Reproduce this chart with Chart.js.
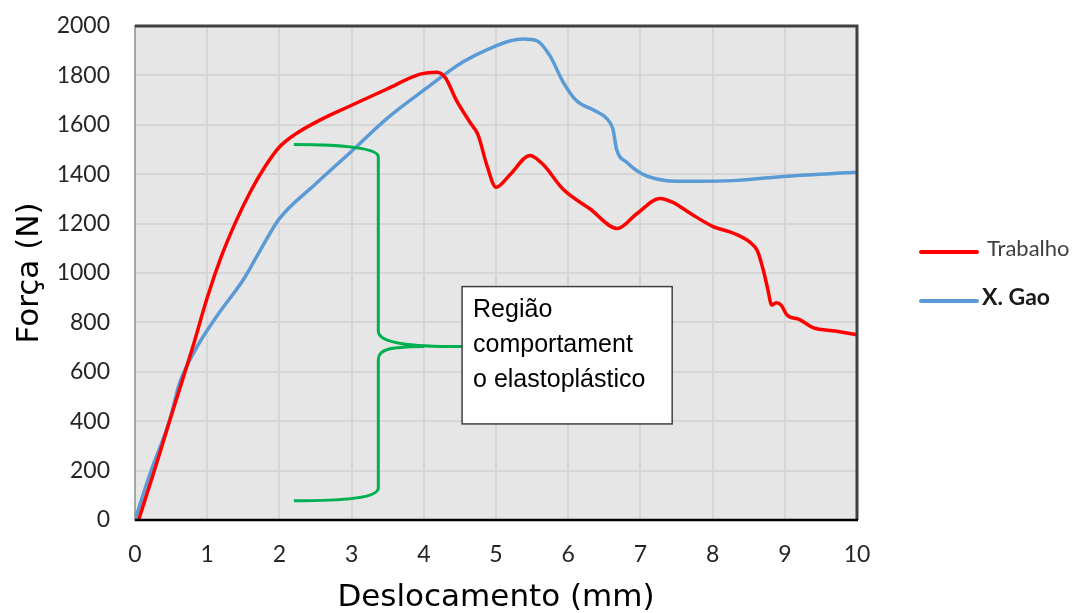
<!DOCTYPE html>
<html>
<head>
<meta charset="utf-8">
<script src="https://cdn.jsdelivr.net/npm/chart.js@4.4.0/dist/chart.umd.min.js"></script>
<style>
  html, body { margin: 0; padding: 0; background: #fff; }
  #wrap { width: 1073px; height: 613px; }
</style>
</head>
<body>
<div id="wrap"><canvas id="chart"></canvas></div>
<script>
// data
var trabalhoX = [0.05, 0.3, 0.5, 0.8, 1.0, 1.2, 1.4, 1.6, 1.8, 2.0, 2.2, 2.6, 2.94, 3.49, 3.95, 4.18, 4.3, 4.45, 4.64, 4.75, 4.88, 5.0, 5.2, 5.47, 5.65, 5.93, 6.3, 6.68, 6.95, 7.27, 7.45, 7.7, 8.0, 8.3, 8.52, 8.62, 8.7, 8.76, 8.82, 8.88, 8.95, 9.03, 9.2, 9.39, 9.7, 10.0]
var trabalhoY = [0, 230, 420, 700, 900, 1070, 1210, 1330, 1430, 1510, 1558, 1625, 1671, 1745, 1805, 1813, 1790, 1700, 1610, 1560, 1430, 1347, 1400, 1476, 1440, 1339, 1260, 1180, 1240, 1302, 1286, 1240, 1189, 1160, 1124, 1090, 1014, 940, 870, 880, 870, 830, 812, 779, 765, 750]

var gaoX = [0, 0.2, 0.48, 0.62, 0.86, 1.13, 1.52, 1.75, 2.0, 2.5, 3.0, 3.5, 4.0, 4.54, 5.0, 5.19, 5.37, 5.57, 5.75, 5.93, 6.12, 6.35, 6.54, 6.62, 6.67, 6.81, 7.09, 7.65, 8.34, 9.03, 10.0]
var gaoY = [0, 180, 405, 556, 702, 824, 982, 1100, 1220, 1360, 1493, 1628, 1740, 1854, 1920, 1939, 1947, 1940, 1878, 1773, 1696, 1660, 1623, 1582, 1501, 1448, 1392, 1371, 1375, 1392, 1408]

var xTicks = [0, 1, 2, 3, 4, 5, 6, 7, 8, 9, 10]
var yTicks = [0, 200, 400, 600, 800, 1000, 1200, 1400, 1600, 1800, 2000]

var seriesNames = ['Trabalho', 'X. Gao']
var noteLines = ['Região', 'comportament', 'o elastoplástico']

function pts(xs, ys) {
  return xs.map(function (x, i) { return {x: x, y: ys[i]} })
}

var plotBg = {
  id: 'plotBg',
  beforeDraw: function (chart) {
    var a = chart.chartArea, ctx = chart.ctx
    ctx.save()
    ctx.fillStyle = '#e6e6e6'
    ctx.fillRect(a.left, a.top, a.right - a.left, a.bottom - a.top)
    ctx.restore()
  },
  afterDraw: function (chart) {
    var a = chart.chartArea, ctx = chart.ctx
    ctx.save()
    ctx.strokeStyle = '#404040'
    ctx.lineWidth = 3
    ctx.beginPath()
    ctx.moveTo(a.left, a.top)
    ctx.lineTo(a.right, a.top)
    ctx.lineTo(a.right, a.bottom)
    ctx.stroke()
    ctx.strokeStyle = '#000'
    ctx.lineWidth = 2.5
    ctx.beginPath()
    ctx.moveTo(a.left, a.bottom)
    ctx.lineTo(a.right + 1, a.bottom)
    ctx.stroke()
    ctx.restore()
  }
}

// brace + text box
var note = {
  id: 'note',
  afterDatasetsDraw: function (chart) {
    var sx = chart.scales.x, sy = chart.scales.y, ctx = chart.ctx
    var X = function (v) { return sx.getPixelForValue(v) }
    var Y = function (v) { return sy.getPixelForValue(v) }
    var x0 = X(2.2), xv = X(3.37), xt = X(4.0), xb = X(4.53)
    ctx.save()
    ctx.strokeStyle = '#00b050'
    ctx.lineWidth = 3
    ctx.beginPath()
    ctx.moveTo(x0, Y(1520))
    ctx.bezierCurveTo(X(2.9), Y(1520), xv, Y(1505), xv, Y(1470))
    ctx.lineTo(xv, Y(765))
    ctx.bezierCurveTo(xv, Y(715), X(3.8), Y(702), xb, Y(702))
    ctx.moveTo(xt, Y(702))
    ctx.bezierCurveTo(X(3.5), Y(700), xv, Y(690), xv, Y(650))
    ctx.lineTo(xv, Y(130))
    ctx.bezierCurveTo(xv, Y(90), X(2.9), Y(78), x0, Y(78))
    ctx.stroke()

    var bl = X(4.53), bt = Y(945), br = X(7.44), bb = Y(389)
    ctx.fillStyle = '#fff'
    ctx.fillRect(bl, bt, br - bl, bb - bt)
    ctx.strokeStyle = '#404040'
    ctx.lineWidth = 1.5
    ctx.strokeRect(bl, bt, br - bl, bb - bt)
    ctx.fillStyle = '#000'
    ctx.font = '25px "Liberation Sans", Arial, sans-serif'
    ctx.textBaseline = 'alphabetic'
    ctx.textAlign = 'left'
    noteLines.forEach(function (t, i) {
      ctx.fillText(t, bl + 11, bt + 30 + i * 35)
    })
    ctx.restore()
  }
}

var legendRight = {
  id: 'legendRight',
  afterDraw: function (chart) {
    var ctx = chart.ctx
    var items = [
      {c: '#ff0000', y: 252, font: '22px Lato', col: '#404040'},
      {c: '#5b9bd5', y: 301, font: 'bold 23px Lato', col: '#1a1a1a'}
    ]
    ctx.save()
    items.forEach(function (it, i) {
      ctx.strokeStyle = it.c
      ctx.lineWidth = 4
      ctx.lineCap = 'round'
      ctx.beginPath()
      ctx.moveTo(921, it.y)
      ctx.lineTo(977, it.y)
      ctx.stroke()
      ctx.fillStyle = it.col
      ctx.font = it.font
      ctx.textBaseline = 'middle'
      ctx.fillText(seriesNames[i], i === 0 ? 987 : 982, it.y - 3)
    })
    ctx.restore()
  }
}

new Chart(document.getElementById('chart'), {
  type: 'scatter',
  data: {
    datasets: [{
      label: seriesNames[0],
      data: pts(trabalhoX, trabalhoY),
      showLine: true,
      borderColor: '#ff0000',
      borderWidth: 3.5,
      pointRadius: 0,
      cubicInterpolationMode: 'monotone'
    }, {
      label: seriesNames[1],
      data: pts(gaoX, gaoY),
      showLine: true,
      borderColor: '#5b9bd5',
      borderWidth: 3.5,
      pointRadius: 0,
      cubicInterpolationMode: 'monotone'
    }]
  },
  options: {
    responsive: true,
    maintainAspectRatio: false,
    animation: false,
    layout: {padding: {left: 0, top: 26, right: 216, bottom: 0}},
    plugins: {
      legend: {display: false},
      tooltip: {enabled: false}
    },
    scales: {
      x: {
        type: 'linear',
        min: 0,
        max: 10,
        afterBuildTicks: function (s) { s.ticks = xTicks.map(function (v) { return {value: v} }) },
        afterFit: function (s) { s.height = 93 },
        grid: {color: '#d6d6d6', lineWidth: 2, drawTicks: false},
        border: {display: false},
        ticks: {padding: 21, color: '#262626', font: {family: 'Lato', size: 23},
          callback: function (v) { return String(v) }},
        title: {display: true, text: 'Deslocamento (mm)', color: '#000',
          font: {family: 'DejaVu Sans', size: 31, lineHeight: 1}, padding: {top: 0, bottom: 0}}
      },
      y: {
        min: 0,
        max: 2000,
        afterBuildTicks: function (s) { s.ticks = yTicks.map(function (v) { return {value: v} }) },
        afterFit: function (s) { s.width = 135 },
        grid: {color: '#d6d6d6', lineWidth: 2, drawTicks: true, tickLength: 25, tickColor: 'rgba(0,0,0,0)'},
        border: {display: true, color: '#a6a6a6', width: 2},
        ticks: {padding: 0, color: '#262626', font: {family: 'Lato', size: 23},
          callback: function (v) { return String(v) }},
        title: {display: true, text: 'Força (N)', color: '#000',
          font: {family: 'DejaVu Sans', size: 31, lineHeight: 1}, padding: {top: 14, bottom: 0}}
      }
    }
  },
  plugins: [plotBg, note, legendRight]
})
</script>
</body>
</html>
